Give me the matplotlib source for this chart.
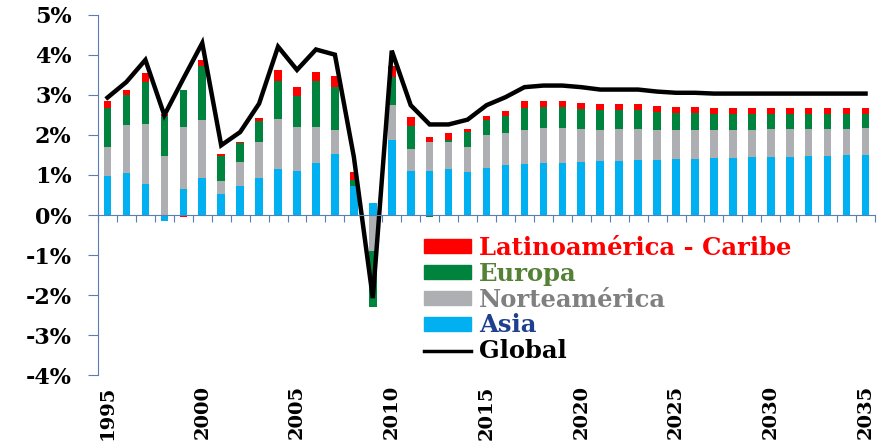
import numpy as np
import matplotlib
matplotlib.use("Agg")
import matplotlib.pyplot as plt
from matplotlib.patches import Patch
from matplotlib.lines import Line2D

# data (annual growth, %)
years = list(range(1995, 2036))
asia = [0.98, 1.04, 0.78, -0.14, 0.65, 0.93, 0.53, 0.73, 0.93, 1.14,
        1.09, 1.29, 1.53, 0.73, 0.29, 1.88, 1.09, 1.09, 1.15, 1.08,
        1.18, 1.25, 1.28, 1.29, 1.30, 1.33, 1.35, 1.35, 1.38, 1.38,
        1.40, 1.40, 1.43, 1.43, 1.44, 1.45, 1.46, 1.48, 1.48, 1.49, 1.50]
norte = [0.72, 1.20, 1.48, 1.47, 1.54, 1.43, 0.31, 0.59, 0.89, 1.25,
         1.10, 0.91, 0.58, 0.00, -0.90, 0.86, 0.56, 0.73, 0.67, 0.62,
         0.81, 0.80, 0.83, 0.87, 0.87, 0.81, 0.77, 0.79, 0.76, 0.75,
         0.71, 0.71, 0.69, 0.69, 0.69, 0.69, 0.68, 0.67, 0.67, 0.66, 0.66]
europa = [0.97, 0.75, 1.07, 1.00, 0.92, 1.36, 0.64, 0.48, 0.53, 0.96,
          0.79, 1.15, 1.08, 0.14, -1.38, 0.70, 0.58, -0.04, 0.06, 0.37,
          0.39, 0.43, 0.57, 0.53, 0.52, 0.50, 0.50, 0.48, 0.48, 0.45,
          0.44, 0.44, 0.41, 0.41, 0.40, 0.39, 0.39, 0.38, 0.38, 0.38, 0.37]
latam = [0.17, 0.12, 0.21, 0.06, -0.04, 0.14, 0.04, 0.02, 0.08, 0.27,
         0.22, 0.22, 0.28, 0.21, -0.02, 0.29, 0.22, 0.13, 0.17, 0.07,
         0.08, 0.11, 0.16, 0.15, 0.16, 0.16, 0.15, 0.15, 0.15, 0.15,
         0.14, 0.14, 0.14, 0.14, 0.14, 0.14, 0.14, 0.14, 0.14, 0.14, 0.14]
glob = [2.93, 3.32, 3.87, 2.49, 3.40, 4.29, 1.74, 2.07, 2.78, 4.20,
        3.62, 4.13, 4.00, 1.45, -2.07, 4.10, 2.74, 2.26, 2.26, 2.38,
        2.74, 2.94, 3.19, 3.23, 3.23, 3.19, 3.13, 3.13, 3.13, 3.08,
        3.05, 3.05, 3.03, 3.03, 3.03, 3.03, 3.03, 3.03, 3.03, 3.03, 3.03]

labels = ["Latinoamérica - Caribe", "Europa", "Norteamérica", "Asia", "Global"]
bar_colors = {"Asia": "#00b0f0", "Norteamérica": "#adafb2",
              "Europa": "#00843d", "Latinoamérica - Caribe": "#ff0000"}
text_colors = ["#ff0000", "#538135", "#808080", "#1f3f8f", "#000000"]
axis_col = "#5b7db5"

plt.rcParams['font.family'] = ['DejaVu Serif']
plt.rcParams['font.weight'] = 'bold'

fig = plt.figure(figsize=(8.87, 4.42), dpi=100)
ax = fig.add_axes([0.1105, 0.1505, 0.876, 0.8165])

x = np.arange(len(years))
pos = np.zeros(len(years))
neg = np.zeros(len(years))
for name, vals in [("Asia", asia), ("Norteamérica", norte),
                   ("Europa", europa), ("Latinoamérica - Caribe", latam)]:
    v = np.array(vals)
    bottom = np.where(v >= 0, pos, neg)
    ax.bar(x, v, 0.4, bottom=bottom, color=bar_colors[name], linewidth=0)
    pos = pos + np.where(v >= 0, v, 0)
    neg = neg + np.where(v < 0, v, 0)

ax.plot(x, glob, color="black", lw=3.2, solid_joinstyle="miter")

ax.set_xlim(-0.5, len(years) - 0.5)
ax.set_ylim(-4, 5)
ax.set_yticks(range(-4, 6))
ax.set_yticklabels([f"{v}%" for v in range(-4, 6)])
ax.tick_params(axis='y', direction='out', length=7, color=axis_col,
               labelsize=16, pad=12)

ax.spines['top'].set_visible(False)
ax.spines['right'].set_visible(False)
ax.spines['left'].set_color(axis_col)
ax.spines['bottom'].set_color(axis_col)
ax.spines['bottom'].set_position(('data', 0))
ax.set_xticks(np.arange(-0.5, len(years), 1.0))
ax.set_xticklabels([])
ax.tick_params(axis='x', direction='out', length=5, color=axis_col)

sec = ax.secondary_xaxis('bottom')
sec.set_xticks(x[::5])
sec.set_xticklabels([str(y) for y in years[::5]], rotation=90)
sec.tick_params(length=0, labelsize=14, pad=7)
sec.spines['bottom'].set_visible(False)

handles = [Patch(color=bar_colors[l]) for l in labels[:4]]
handles.append(Line2D([0], [0], color="black", lw=2.5))
leg = ax.legend(handles, labels, loc='upper left',
                bbox_to_anchor=(0.478, 0.466), bbox_transform=fig.transFigure,
                frameon=False, fontsize=17.5, handlelength=1.95,
                handleheight=0.5, handletextpad=0.3, labelspacing=0.075,
                borderpad=0, borderaxespad=0)
for t, c in zip(leg.get_texts(), text_colors):
    t.set_color(c)

fig.savefig("out.png", dpi=100)
